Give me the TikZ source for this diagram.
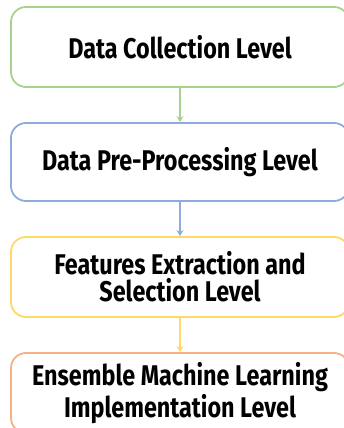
\documentclass[tikz,border=0pt]{standalone}
\usepackage{fontspec}
\setmainfont{Fira Sans}[UprightFont=* Bold, FakeStretch=0.82]
\usetikzlibrary{arrows.meta}
\definecolor{cgreen}{HTML}{A9D18E}
\definecolor{cblue}{HTML}{8FAADC}
\definecolor{cyellow}{HTML}{FFD966}
\definecolor{corange}{HTML}{F4B183}
\tikzset{
  levelbox/.style={draw, line width=1.8pt, rounded corners=15pt, minimum width=338pt, align=center, font=\fontsize{28.5}{26}\selectfont},
  flow/.style={line width=1.8pt, -{Stealth[length=6pt,width=7pt]}}
}
\begin{document}
\begin{tikzpicture}[x=1pt,y=-1pt]
\useasboundingbox (0,0) rectangle (344,428);
\node[levelbox, cgreen, minimum height=80pt] (b1) at (180,47) {\textcolor{black}{Data Collection Level}};
\node[levelbox, cblue, minimum height=78pt] (b2) at (180,162) {\textcolor{black}{Data Pre-Processing Level}};
\node[levelbox, cyellow, minimum height=80pt] (b3) at (180,277) {\textcolor{black}{Features Extraction and}\\[1pt]\textcolor{black}{Selection Level}};
\node[levelbox, corange, minimum height=80pt] (b4) at (180,393) {\textcolor{black}{Ensemble Machine Learning}\\[1pt]\textcolor{black}{Implementation Level}};
\draw[flow, cgreen] (b1) -- (b2);
\draw[flow, cblue] (b2) -- (b3);
\draw[flow, cyellow] (b3) -- (b4);
\end{tikzpicture}
\end{document}
